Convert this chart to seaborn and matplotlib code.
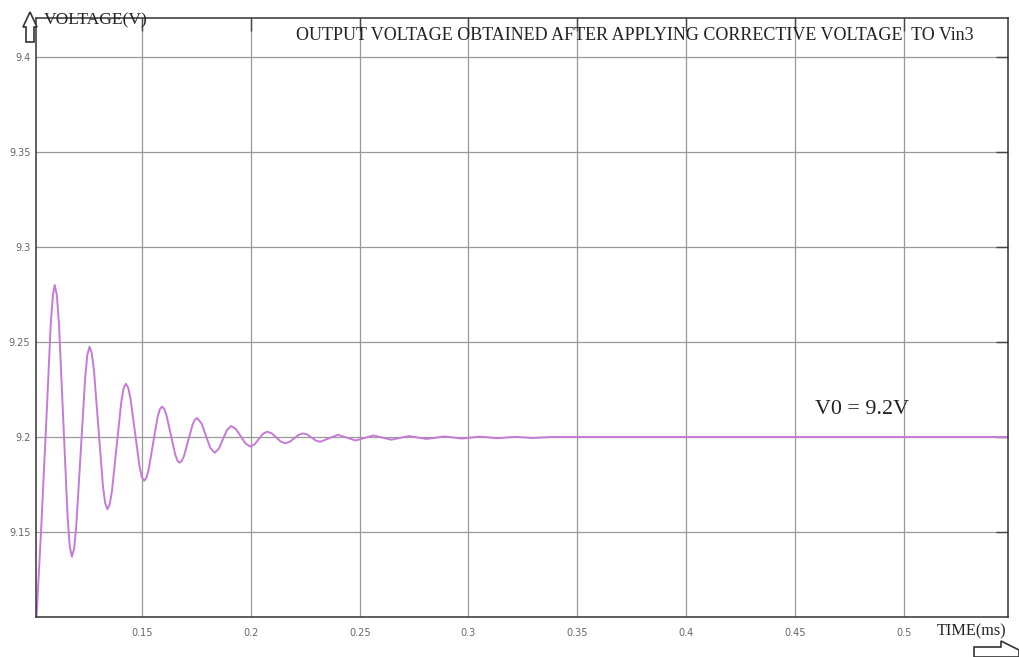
import matplotlib
matplotlib.use("Agg")
import matplotlib.pyplot as plt
from matplotlib.patches import Polygon
import seaborn as sns
import pandas as pd

# ---- data ----
time_ms = [
    0.1012, 0.1035, 0.1060, 0.1080, 0.1090, 0.1098,
    0.11079, 0.11178, 0.11375, 0.11573, 0.11671, 0.1177,
    0.11871, 0.1197, 0.12175, 0.1238, 0.12479, 0.1258,
    0.12683, 0.12785, 0.1299, 0.13195, 0.13298, 0.1340,
    0.13506, 0.13613, 0.13825, 0.14038, 0.14144, 0.1425,
    0.14355, 0.1446, 0.1467, 0.1488, 0.14985, 0.1509,
    0.15193, 0.15295, 0.1550, 0.15705, 0.15808, 0.1591,
    0.16011, 0.16113, 0.16315, 0.16518, 0.16619, 0.1672,
    0.1682, 0.1692, 0.1712, 0.1732, 0.1742, 0.1752,
    0.17723, 0.17925, 0.18128, 0.1833,
    0.1852, 0.1871, 0.1890, 0.1909,
    0.1931, 0.1953, 0.1975, 0.1997,
    0.20165, 0.2036, 0.20555, 0.2075,
    0.20958, 0.21165, 0.21373, 0.2158,
    0.21783, 0.21985, 0.22188, 0.2239,
    0.2259, 0.2279, 0.2299, 0.2319,
    0.23595, 0.2400, 0.24405, 0.2481,
    0.2522, 0.2563, 0.2604, 0.2645,
    0.26855, 0.2726, 0.27665, 0.2807,
    0.28485, 0.2890, 0.2930, 0.2970,
    0.3010, 0.3050, 0.30925, 0.3135,
    0.3175, 0.3215, 0.32555, 0.3296,
    0.3380, 0.3500, 0.5480,
]
voltage_v = [
    9.100, 9.150, 9.210, 9.260, 9.275, 9.280,
    9.2746, 9.259, 9.2085, 9.158, 9.1425, 9.137,
    9.1412, 9.153, 9.192, 9.231, 9.2433, 9.2475,
    9.2442, 9.235, 9.2048, 9.1745, 9.1653, 9.162,
    9.1645, 9.1717, 9.195, 9.2183, 9.2255, 9.228,
    9.2261, 9.2205, 9.2025, 9.1845, 9.1789, 9.177,
    9.1785, 9.1827, 9.1965, 9.2103, 9.2145, 9.216,
    9.2149, 9.2117, 9.2013, 9.1908, 9.1876, 9.1865,
    9.1874, 9.1899, 9.1983, 9.2066, 9.2091, 9.210,
    9.2073, 9.2009, 9.1944, 9.1917,
    9.1938, 9.1988, 9.2037, 9.2058,
    9.2042, 9.2004, 9.1966, 9.195,
    9.1961, 9.1989, 9.2017, 9.2028,
    9.2019, 9.1998, 9.1976, 9.1967,
    9.1975, 9.1993, 9.2011, 9.2019,
    9.2013, 9.1997, 9.1981, 9.1975,
    9.19935, 9.2012, 9.1997, 9.1982,
    9.1995, 9.2008, 9.1997, 9.1986,
    9.19955, 9.2005, 9.19975, 9.1990,
    9.19965, 9.2003, 9.19975, 9.1992,
    9.1997, 9.2002, 9.1998, 9.1994,
    9.19975, 9.2001, 9.1998, 9.1995,
    9.2000, 9.2000, 9.2000,
]
x_ticks = [0.15, 0.2, 0.25, 0.3, 0.35, 0.4, 0.45, 0.5]
x_tick_labels = ["0.15", "0.2", "0.25", "0.3", "0.35", "0.4", "0.45", "0.5"]
y_ticks = [9.15, 9.2, 9.25, 9.3, 9.35, 9.4]
y_tick_labels = ["9.15", "9.2", "9.25", "9.3", "9.35", "9.4"]
title_text = "OUTPUT VOLTAGE OBTAINED AFTER APPLYING CORRECTIVE VOLTAGE  TO Vin3"
y_label_text = "VOLTAGE(V)"
x_label_text = "TIME(ms)"
annot_text = "V0 = 9.2V"

df = pd.DataFrame({"time": time_ms, "voltage": voltage_v})

sns.set_style("white")
W, H = 1019, 657
fig = plt.figure(figsize=(W / 100, H / 100), dpi=100)
ax = fig.add_axes([36 / W, 1 - 617 / H, (1008 - 36) / W, (617 - 18) / H])

sns.lineplot(data=df, x="time", y="voltage", ax=ax, sort=False, estimator=None,
             color="#c57ad6", linewidth=1.4)

ax.set_xlim(0.1012, 0.548)
ax.set_ylim(9.1053, 9.4205)
ax.set_xticks(x_ticks)
ax.set_xticklabels(x_tick_labels)
ax.set_yticks(y_ticks)
ax.set_yticklabels(y_tick_labels)
ax.set_xlabel("")
ax.set_ylabel("")
ax.grid(True, color="#999999", linewidth=0.9)
ax.set_axisbelow(True)
ax.tick_params(axis="both", direction="in", length=9, width=1.0, color="#444444",
               labelsize=7, labelcolor="#666666", top=True, right=True)
ax.tick_params(axis="x", pad=8)
ax.tick_params(axis="y", pad=4)
for s in ax.spines.values():
    s.set_color("#333333")
    s.set_linewidth(1.1)

serif = ["Liberation Serif", "DejaVu Serif"]
fig.text(296 / W, 1 - 36 / H, title_text, family=serif, fontsize=13,
         color="#222222", ha="left", va="center")
fig.text(44 / W, 1 - 20 / H, y_label_text, family=serif, fontsize=12.6,
         color="#222222", ha="left", va="center")
fig.text(937 / W, 1 - 631 / H, x_label_text, family=serif, fontsize=11.7,
         color="#222222", ha="left", va="center")
fig.text(815 / W, 1 - 410 / H, annot_text, family=serif, fontsize=15.8,
         color="#222222", ha="left", va="center")

def px_poly(points):
    return [(x / W, 1 - y / H) for x, y in points]

up_arrow = Polygon(px_poly([(30, 12), (37, 27), (34, 27), (34, 42), (26, 42),
                            (26, 27), (23, 27)]),
                   closed=True, facecolor="white", edgecolor="#333333",
                   linewidth=1.2, transform=fig.transFigure, zorder=5)
right_arrow = Polygon(px_poly([(974, 647), (1001, 647), (1001, 641), (1019, 650),
                               (1019, 657), (974, 657)]),
                      closed=True, facecolor="white", edgecolor="#333333",
                      linewidth=1.2, transform=fig.transFigure, zorder=5)
fig.patches.extend([up_arrow, right_arrow])

fig.savefig("out.png", dpi=100, facecolor="white")
